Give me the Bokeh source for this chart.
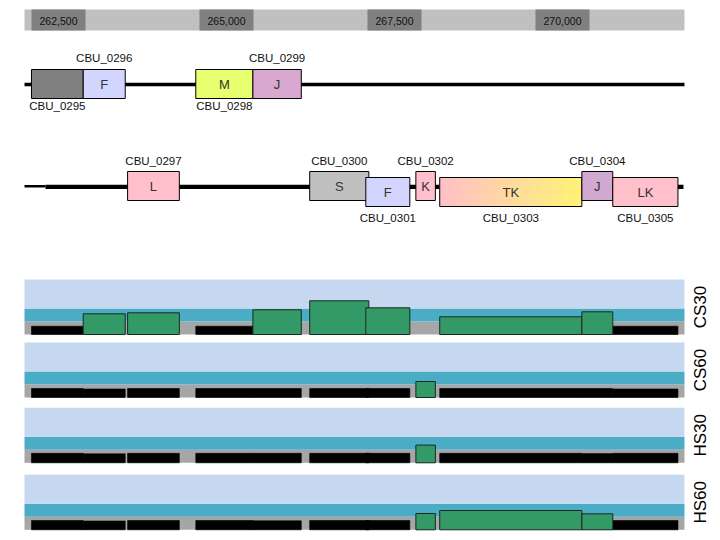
import numpy as np
from bokeh.plotting import figure
from bokeh.models import Range1d
from bokeh.embed import file_html
from bokeh.resources import INLINE
from bokeh.core.properties import value

# ---------------- data ----------------
genes = ["CBU_0295", "CBU_0296", "CBU_0297", "CBU_0298", "CBU_0299", "CBU_0300",
         "CBU_0301", "CBU_0302", "CBU_0303", "CBU_0304", "CBU_0305"]
gene_start = [262500, 263270, 263930, 264945, 265795, 266640, 267475, 268220, 268575, 270690, 271150]
gene_end = [263270, 263895, 264700, 265795, 266515, 267520, 268130, 268510, 270690, 271150, 272120]
gene_symbol = ["", "F", "L", "M", "J", "S", "F", "K", "TK", "J", "LK"]
gene_row = [0, 0, 1, 0, 0, 1, 1, 1, 1, 1, 1]
gene_lower = [0, 0, 0, 0, 0, 0, 1, 0, 1, 0, 1]
label_side = ["below", "above", "above", "below", "above", "above", "below", "above", "below", "above", "below"]

samples = ["CS30", "CS60", "HS30", "HS60"]
cs30 = [0.83, 2.07, 2.17, 0.83, 2.47, 3.37, 2.67, np.nan, 1.77, 2.27, 0.83]
cs60 = [0.90, 0.85, 0.90, 0.90, 0.90, 0.90, 0.90, 1.60, 0.90, 0.90, 0.85]
hs30 = [0.95, 0.90, 0.95, 0.95, 0.95, 0.95, 0.95, 1.77, 0.95, 0.92, 0.95]
hs60 = [0.93, 0.88, 0.93, 0.93, 0.90, 0.93, 0.93, 1.63, 1.93, 1.60, 0.93]
sample_values = [cs30, cs60, hs30, hs60]

ruler_ticks = [262500, 265000, 267500, 270000]
ruler_labels = ["262,500", "265,000", "267,500", "270,000"]
region = (262396, 272217)

# ---------------- style / layout ----------------
W, H = 712, 532
BP_PER_PX = 2500 / 168.0
X0 = region[0] - 24 * BP_PER_PX
X1 = X0 + W * BP_PER_PX
FONT = value("Liberation Sans")

gene_fill = {"CBU_0295": "#808080", "CBU_0296": "#d2d6ff", "CBU_0297": "#ffc0cb",
             "CBU_0298": "#e8ff70", "CBU_0299": "#d8a8d0", "CBU_0300": "#c0c0c0",
             "CBU_0301": "#d2d6ff", "CBU_0302": "#ffc0cb", "CBU_0303": None,
             "CBU_0304": "#d0a8d0", "CBU_0305": "#ffc0cb"}
row_line_y = [84, 186.3]
row_box_center = [83.5, 185.5]
box_half = 14.5
lower_shift = 6
above_off = [-26.5, -26.3]
below_off = [21, 31]

panel_bottom = [334, 397, 462.3, 529.3]
PX_PER_UNIT = 10.0
THRESH = 1.3
bands = [(0, 1.3, "#a6a6a6"), (1.3, 2.6, "#4bacc6"), (2.6, 5.5, "#c5d8ef")]

p = figure(width=W, height=H, output_backend="svg", toolbar_location=None,
           x_range=Range1d(X0, X1), y_range=Range1d(H, 0),
           min_border=0, min_border_left=0, min_border_right=0,
           min_border_top=0, min_border_bottom=0)
p.axis.visible = False
p.grid.visible = False
p.outline_line_color = None
p.background_fill_color = "white"

# ---------------- ruler ----------------
p.quad(left=[region[0]], right=[region[1]], bottom=[30], top=[9],
       fill_color="#c0c0c0", line_color=None)
tick_w = 54 * BP_PER_PX
p.quad(left=ruler_ticks, right=[t + tick_w for t in ruler_ticks],
       bottom=[30] * len(ruler_ticks), top=[9] * len(ruler_ticks),
       fill_color="#808080", line_color=None)
p.text(x=[t + tick_w / 2 for t in ruler_ticks], y=[20] * len(ruler_ticks), text=ruler_labels,
       text_font=FONT, text_font_size="10.5px", text_align="center",
       text_baseline="middle", text_color="#111111")

# ---------------- gene rows ----------------
p.segment(x0=[region[0]], y0=[row_line_y[0]], x1=[region[1]], y1=[row_line_y[0]],
          line_color="black", line_width=3.3)
thin_end = region[0] + 21 * BP_PER_PX
p.segment(x0=[region[0]], y0=[row_line_y[1] - 0.6], x1=[thin_end], y1=[row_line_y[1] - 0.6],
          line_color="black", line_width=2.6)
p.segment(x0=[thin_end], y0=[row_line_y[1]], x1=[region[1] - 1 * BP_PER_PX], y1=[row_line_y[1]],
          line_color="black", line_width=4.2)

for i, g in enumerate(genes):
    r = gene_row[i]
    cy = row_box_center[r] + lower_shift * gene_lower[i]
    top, bot = cy - box_half, cy + box_half
    s, e = gene_start[i], gene_end[i]
    if gene_fill[g] is None:
        n = 60
        edges = np.linspace(s, e, n + 1)
        c0 = np.array([255, 192, 200])
        c1 = np.array([255, 240, 125])
        cols = []
        for k in range(n):
            t = min(1.0, (k + 0.5) / n / 0.92)
            c = (c0 + (c1 - c0) * t).astype(int)
            cols.append("#%02x%02x%02x" % tuple(c))
        p.quad(left=edges[:-1], right=edges[1:], bottom=[bot] * n, top=[top] * n,
               fill_color=cols, line_color=cols, line_width=1)
        p.quad(left=[s], right=[e], bottom=[bot], top=[top], fill_color=None,
               line_color="black", line_width=1)
    else:
        p.quad(left=[s], right=[e], bottom=[bot], top=[top], fill_color=gene_fill[g],
               line_color="black", line_width=1)
    if gene_symbol[i]:
        p.text(x=[(s + e) / 2], y=[cy + 0.5], text=[gene_symbol[i]], text_font=FONT,
               text_font_size="13px", text_align="center", text_baseline="middle",
               text_color="#333333")
    ly = row_line_y[r] + (above_off[r] if label_side[i] == "above" else below_off[r])
    p.text(x=[(s + e) / 2], y=[ly], text=[g], text_font=FONT, text_font_size="11.5px",
           text_align="center", text_baseline="middle", text_color="#111111")

# ---------------- expression panels ----------------
for j, name in enumerate(samples):
    b = panel_bottom[j]
    rname = "p%d" % j
    p.extra_y_ranges[rname] = Range1d(start=(b - H) / PX_PER_UNIT, end=b / PX_PER_UNIT)
    for lo, hi, col in bands:
        p.quad(left=[region[0]], right=[region[1]], bottom=[lo], top=[hi],
               fill_color=col, line_color=None, y_range_name=rname)
    vals = sample_values[j]
    low_idx = [i for i in range(len(genes)) if not np.isnan(vals[i]) and vals[i] <= THRESH]
    high_idx = [i for i in range(len(genes)) if not np.isnan(vals[i]) and vals[i] > THRESH]
    if low_idx:
        p.quad(left=[gene_start[i] for i in low_idx], right=[gene_end[i] for i in low_idx],
               bottom=[0] * len(low_idx), top=[vals[i] for i in low_idx],
               fill_color="black", line_color="black", line_width=0.6,
               y_range_name=rname)
    for i in high_idx:
        p.quad(left=[gene_start[i]], right=[gene_end[i]], bottom=[0], top=[vals[i]],
               fill_color="#339966", line_color="#1a2a20", line_width=1,
               y_range_name=rname)
    p.text(x=[region[1] + 16 * BP_PER_PX], y=[b - 27.5], text=[name], angle=np.pi / 2,
           text_font=FONT, text_font_size="17px", text_align="center",
           text_baseline="middle", text_color="black")

open("out.html", "w").write(file_html(p, INLINE))
